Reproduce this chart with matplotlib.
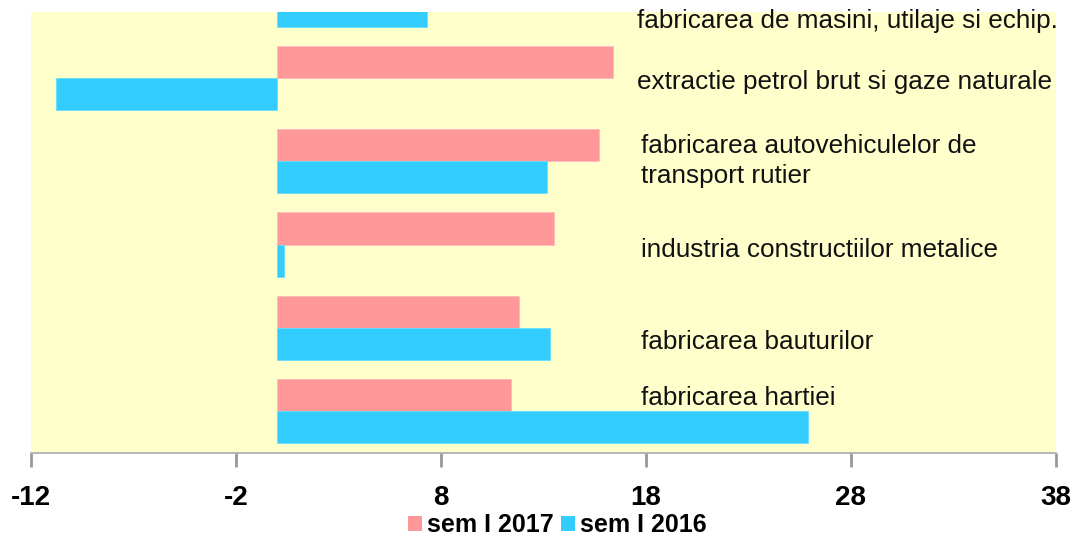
import matplotlib.pyplot as plt
from matplotlib.patches import Patch

categorii = ["fabricarea hartiei",
             "fabricarea bauturilor",
             "industria constructiilor metalice",
             "fabricarea autovehiculelor de\ntransport rutier",
             "extractie petrol brut si gaze naturale",
             "fabricarea de masini, utilaje si echip."]
sem_2017 = [11.4, 11.8, 13.5, 15.7, 16.4, 12.0]
sem_2016 = [25.9, 13.3, 0.35, 13.2, -10.8, 7.3]
ticks_x = [-12, -2, 8, 18, 28, 38]
serii = ["sem I 2017", "sem I 2016"]

roz = "#FF9999"
cyan = "#33CCFF"
fundal = "#FFFFCC"

plt.rcParams['font.family'] = ['Liberation Sans', 'DejaVu Sans']

fig = plt.figure(figsize=(10.72, 5.38), dpi=100)
ax = fig.add_axes([0.0289, 0.158, 0.956, 0.82])
ax.set_facecolor(fundal)

h = 0.385
poz = list(range(len(categorii)))
ax.barh([p + h / 2 for p in poz], sem_2017, height=h, color=roz, edgecolor="#FFB8B8", linewidth=0.6)
ax.barh([p - h / 2 for p in poz], sem_2016, height=h, color=cyan, edgecolor="#66DDFF", linewidth=0.6)

# etichetele categoriilor sunt scrise in interiorul graficului
dy = [0.156, -0.17, -0.06, 0.0, -0.05, -0.32]
for p, nume, d in zip(poz, categorii, dy):
    x0 = 17.55 if p in (4, 5) else 17.75
    ax.text(x0, p + d, nume, fontsize=18.8, va="center", ha="left",
            color="#111111", linespacing=1.3)

ax.set_xlim(-12, 38)
ax.set_ylim(-0.505, 4.796)
ax.set_xticks(ticks_x)
ax.set_xticklabels([str(t) for t in ticks_x], fontsize=20, fontweight="bold")
ax.set_yticks([])
ax.tick_params(axis="x", direction="out", length=10, width=2, color="#999999", pad=13)
for s in ["top", "right", "left"]:
    ax.spines[s].set_visible(False)
ax.spines["bottom"].set_color("#AAAAAA")
ax.spines["bottom"].set_linewidth(1.2)

handles = [Patch(facecolor=roz, edgecolor="none"), Patch(facecolor=cyan, edgecolor="none")]
fig.legend(handles, serii, loc="center", bbox_to_anchor=(0.52, 0.024), ncol=2, frameon=False,
           prop={"size": 18, "weight": "bold"}, handlelength=0.55, handleheight=0.55,
           handletextpad=0.2, columnspacing=0.3, borderpad=0)

fig.savefig("out.png", dpi=100)
